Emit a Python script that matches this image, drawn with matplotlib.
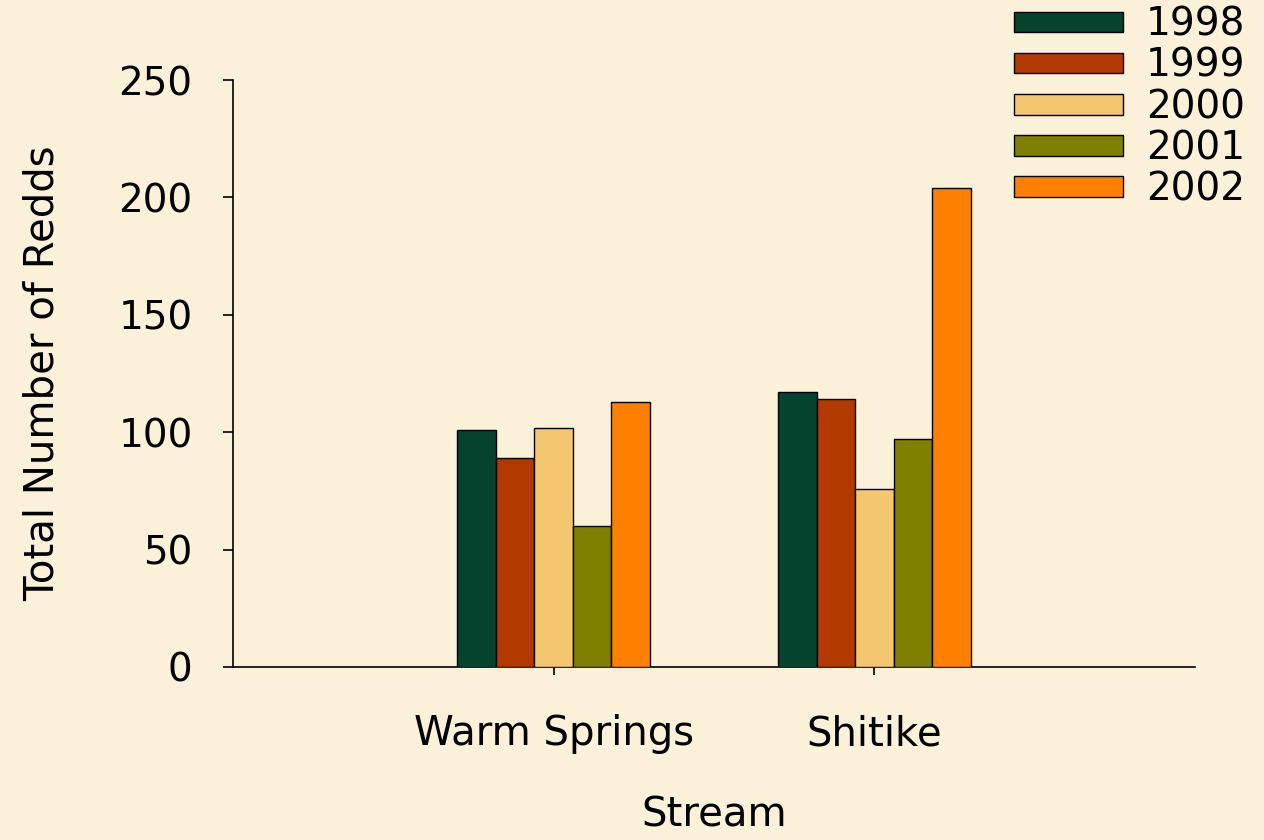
import matplotlib.pyplot as plt
import numpy as np

# данные
streams = ['Warm Springs', 'Shitike']
years = ['1998', '1999', '2000', '2001', '2002']
redds_1998 = [101, 117]
redds_1999 = [89, 114]
redds_2000 = [102, 76]
redds_2001 = [60, 97]
redds_2002 = [113, 204]
colors = ['#06432F', '#B23A00', '#F5C670', '#808000', '#FF8000']

series = [redds_1998, redds_1999, redds_2000, redds_2001, redds_2002]

bg = '#FBF0D8'
fig = plt.figure(figsize=(12.64, 8.4), dpi=100, facecolor=bg)
ax = fig.add_axes([233 / 1264, 173 / 840, (1195 - 233) / 1264, (667 - 80) / 840])
ax.set_facecolor(bg)

x = np.arange(len(streams))
w = 0.12
for i, (vals, year) in enumerate(zip(series, years)):
    ax.bar(x + (i - 2) * w, vals, width=w, color=colors[i], edgecolor='black',
           linewidth=1, label=year, zorder=3)

ax.set_xlim(-1, 2)
ax.set_ylim(0, 250)
ax.set_yticks([0, 50, 100, 150, 200, 250])
ax.set_xticks(x)
ax.set_xticklabels(streams)

for s in ['top', 'right']:
    ax.spines[s].set_visible(False)
ax.spines['left'].set_linewidth(1.2)
ax.spines['bottom'].set_linewidth(1.2)

ax.tick_params(axis='y', length=7, width=1.2, pad=22, labelsize=28)
ax.tick_params(axis='x', length=6, width=1.2, pad=28, labelsize=29)

ax.set_ylabel('Total Number of Redds', fontsize=29, labelpad=40)
ax.set_xlabel('Stream', fontsize=29, labelpad=30)

fs = 28
leg = fig.legend(loc='upper left', bbox_to_anchor=(1008 / 1264, 1.0), frameon=False,
                 fontsize=fs, handlelength=2.8, handleheight=0.44,
                 handletextpad=0.6, labelspacing=0.08, borderaxespad=0.0,
                 borderpad=0.15)

plt.savefig('out.png', dpi=100, facecolor=bg)
